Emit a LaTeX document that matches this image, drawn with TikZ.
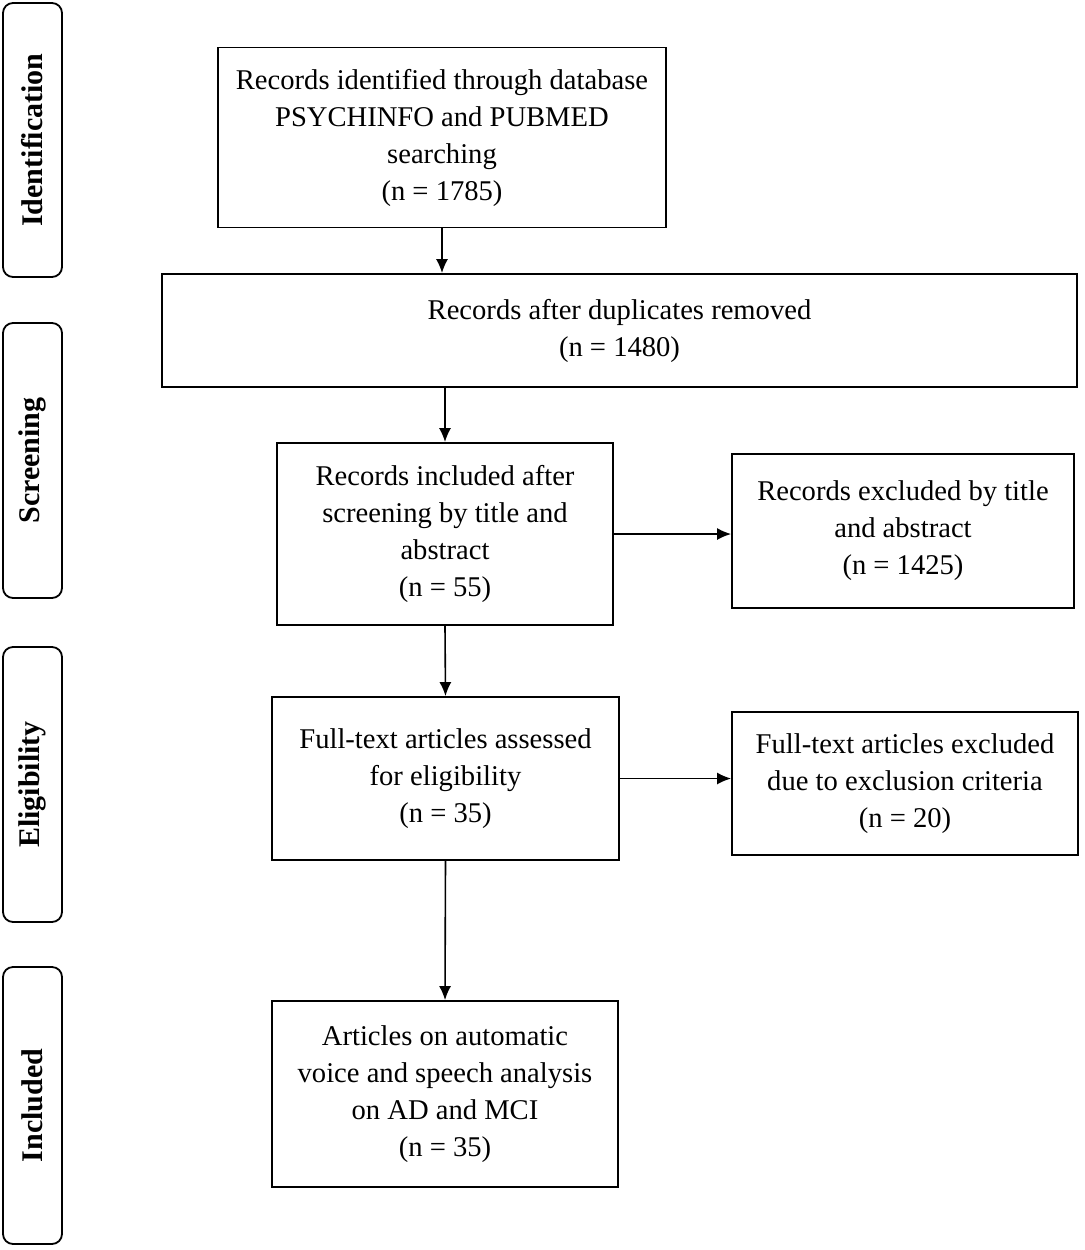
\documentclass[tikz,border=0pt]{standalone}
\usepackage{fontspec}
\setmainfont{Liberation Serif}
\usepackage{tikz}
\usetikzlibrary{arrows.meta}

\begin{document}
\begin{tikzpicture}[x=0.5pt, y=-0.5pt,
    flowbox/.style={draw=black, line width=0.9pt, align=center, inner sep=2pt, font=\fontsize{14.3pt}{18.5pt}\selectfont},
    phasebox/.style={draw=black, line width=0.9pt, rounded corners=5pt, rotate=90, minimum height=29.5pt, font=\bfseries\fontsize{15pt}{18pt}\selectfont}]
    \useasboundingbox (0, 0) rectangle (1084, 1250);

    \node[phasebox, minimum width=137pt]   (ph_id) at (32.5, 140.0)  {Identification};
    \node[phasebox, minimum width=137.5pt] (ph_sc) at (32.5, 460.5)  {Screening};
    \node[phasebox, minimum width=137.5pt] (ph_el) at (32.5, 784.5)  {Eligibility};
    \node[phasebox, minimum width=138.5pt] (ph_in) at (32.5, 1105.5) {Included};

    \node[flowbox, minimum width=224pt,   minimum height=90pt]   (id_search) at (442.0, 137.5)  {Records identified through database\\PSYCHINFO and PUBMED\\searching\\(n = 1785)};
    \node[flowbox, minimum width=457.5pt, minimum height=56.5pt] (sc_dedup)  at (619.5, 330.5)  {Records after duplicates removed\\(n = 1480)};
    \node[flowbox, minimum width=168pt,   minimum height=91pt]   (sc_incl)   at (445.0, 534.0)  {Records included after\\screening by title and\\abstract\\(n = 55)};
    \node[flowbox, minimum width=171pt,   minimum height=77pt]   (sc_excl)   at (903.0, 531.0)  {Records excluded by title\\and abstract\\(n = 1425)};
    \node[flowbox, minimum width=173.5pt, minimum height=81.5pt] (el_full)   at (445.5, 778.5)  {Full-text articles assessed\\for eligibility\\(n = 35)};
    \node[flowbox, minimum width=173pt,   minimum height=71.5pt] (el_excl)   at (905.0, 783.5)  {Full-text articles excluded\\due to exclusion criteria\\(n = 20)};
    \node[flowbox, minimum width=173pt,   minimum height=93pt]   (in_final)  at (445.0, 1094.0) {Articles on automatic\\voice and speech analysis\\on AD and MCI\\(n = 35)};

    \draw[->,>={Latex[length=7pt, width=6pt]}, line width=0.8pt] (id_search.south) -- (id_search.south |- sc_dedup.north);
    \draw[->,>={Latex[length=7pt, width=6pt]}, line width=0.8pt] (sc_incl.north |- sc_dedup.south) -- (sc_incl.north);

    \draw[->,>={Latex[length=7pt, width=6pt]}, line width=0.8pt] (sc_incl.east) -- (sc_incl.east -| sc_excl.west);
    \draw[->,>={Latex[length=7pt, width=6pt]}, line width=0.8pt] (sc_incl.south) -- (el_full.north);

    \draw[->,>={Latex[length=7pt, width=6pt]}, line width=0.8pt] (el_full.east) -- (el_full.east -| el_excl.west);
    \draw[->,>={Latex[length=7pt, width=6pt]}, line width=0.8pt] (el_full.south) -- (in_final.north);
\end{tikzpicture}
\end{document}
